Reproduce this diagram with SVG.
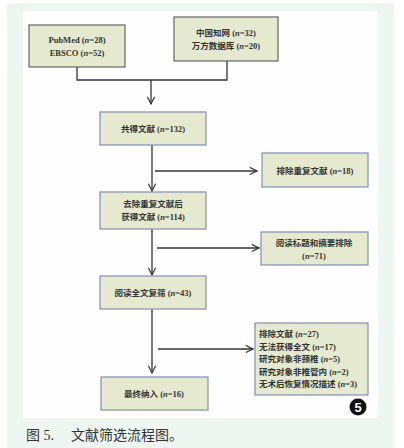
<svg xmlns="http://www.w3.org/2000/svg" width="404" height="448" viewBox="0 0 404 448">
<defs>
<marker id="ah" viewBox="0 0 10 10" refX="9" refY="5" markerWidth="9" markerHeight="9" markerUnits="userSpaceOnUse" orient="auto">
<path d="M1,1 L9,5 L1,9" fill="none" stroke="#333" stroke-width="1.3"/>
</marker>
<style>
.box{fill:#e4e9cf;stroke:#7f8fb8;stroke-width:1.2}
.box2{fill:#e4e9cf;stroke:#666;stroke-width:1.2}
.t{font-family:"Liberation Serif","Noto Sans CJK SC",serif;font-size:8.5px;fill:#333;font-weight:bold}
.c{text-anchor:middle}
.ln{fill:none;stroke:#333;stroke-width:1.3}
</style>
</defs>
<rect x="0" y="0" width="404" height="448" fill="#fff"/>
<rect x="7" y="3" width="387" height="445" fill="#eef6f1"/>
<rect x="23" y="11" width="355" height="407" fill="#fefefe"/>
<g id="connectors">
<path class="ln" d="M77,67 V80 H227 V61"/>
<path class="ln" d="M151,80 V104" marker-end="url(#ah)"/>
<path class="ln" d="M152,145 V191" marker-end="url(#ah)"/>
<path class="ln" d="M155,171 H257" marker-end="url(#ah)"/>
<path class="ln" d="M152,229 V275" marker-end="url(#ah)"/>
<path class="ln" d="M157,248 H259" marker-end="url(#ah)"/>
<path class="ln" d="M152,309 V373" marker-end="url(#ah)"/>
<path class="ln" d="M158,349 H253" marker-end="url(#ah)"/>
</g>
<g id="n1"><rect class="box2" x="29" y="25" width="96" height="42"/>
<text class="t c" x="77" y="43">PubMed (<tspan font-style="italic">n</tspan>=28)</text>
<text class="t c" x="77" y="56">EBSCO (<tspan font-style="italic">n</tspan>=52)</text></g>
<g id="n2"><rect class="box2" x="174" y="17" width="104" height="44"/>
<text class="t c" x="226" y="36">中国知网 (<tspan font-style="italic">n</tspan>=32)</text>
<text class="t c" x="226" y="49">万方数据库 (<tspan font-style="italic">n</tspan>=20)</text></g>
<g id="n3"><rect class="box" x="100" y="112" width="106" height="33"/>
<text class="t c" x="153" y="132">共得文献 (<tspan font-style="italic">n</tspan>=132)</text></g>
<g id="n4"><rect class="box" x="262" y="153" width="106" height="34"/>
<text class="t c" x="315" y="174">排除重复文献 (<tspan font-style="italic">n</tspan>=18)</text></g>
<g id="n5"><rect class="box" x="100" y="192" width="106" height="37"/>
<text class="t c" x="153" y="207">去除重复文献后</text>
<text class="t c" x="153" y="220">获得文献 (<tspan font-style="italic">n</tspan>=114)</text></g>
<g id="n6"><rect class="box" x="261" y="232" width="107" height="33"/>
<text class="t c" x="314" y="246">阅读标题和摘要排除</text>
<text class="t c" x="314" y="259">(<tspan font-style="italic">n</tspan>=71)</text></g>
<g id="n7"><rect class="box" x="100" y="276" width="106" height="33"/>
<text class="t c" x="153" y="296">阅读全文复筛 (<tspan font-style="italic">n</tspan>=43)</text></g>
<g id="n8"><rect class="box" x="255" y="323" width="113" height="72"/>
<text class="t" x="259" y="337">排除文献 (<tspan font-style="italic">n</tspan>=27)</text>
<text class="t" x="259" y="349.5">无法获得全文 (<tspan font-style="italic">n</tspan>=17)</text>
<text class="t" x="259" y="362">研究对象非颈椎 (<tspan font-style="italic">n</tspan>=5)</text>
<text class="t" x="259" y="374.5">研究对象非椎管内 (<tspan font-style="italic">n</tspan>=2)</text>
<text class="t" x="259" y="387">无术后恢复情况描述 (<tspan font-style="italic">n</tspan>=3)</text></g>
<g id="n9"><rect class="box" x="101" y="377" width="107" height="33"/>
<text class="t c" x="154" y="397">最终纳入 (<tspan font-style="italic">n</tspan>=16)</text></g>
<g id="badge"><circle cx="358" cy="407" r="8.5" fill="#111"/>
<text x="358" y="412" text-anchor="middle" font-family="Liberation Sans, sans-serif" font-size="13" font-weight="bold" fill="#fff">5</text></g>
<text x="26" y="440" font-family="Liberation Serif, 'Noto Sans CJK SC', serif" font-size="14" fill="#333">图 5.<tspan x="71">文献筛选流程图。</tspan></text>
</svg>
